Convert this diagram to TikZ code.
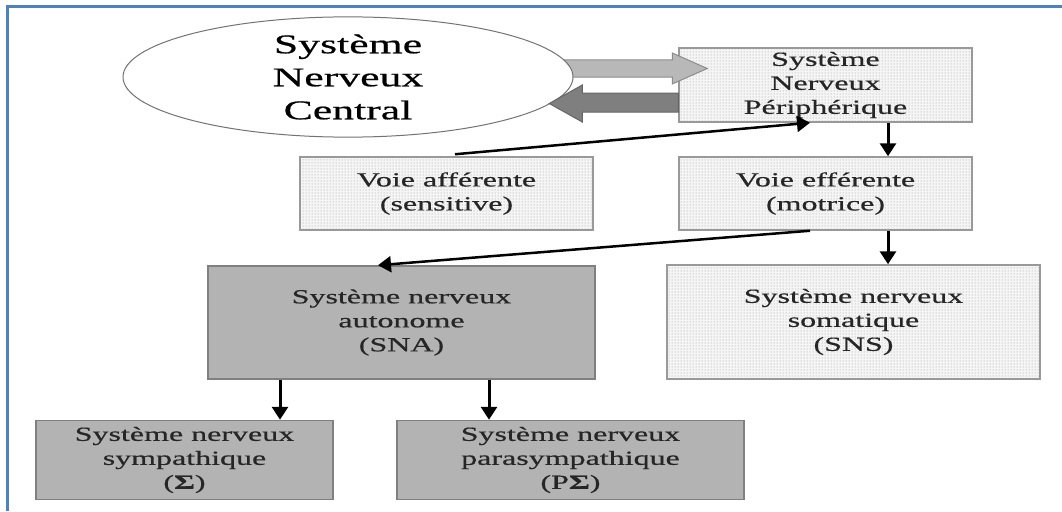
\documentclass[tikz,border=0pt]{standalone}
\usepackage{fontspec}
\setmainfont{Liberation Serif}
\newfontfamily\boxfont[FakeStretch=1.6,FakeBold=0.6]{Liberation Serif}
\newfontfamily\bigfont[FakeStretch=1.62,FakeBold=0.6]{Liberation Serif}
\usetikzlibrary{calc,shapes.geometric,arrows.meta,patterns}
\definecolor{frameblue}{RGB}{79,129,189}
\definecolor{boxgray}{RGB}{179,179,179}
\definecolor{lightarrow}{RGB}{184,184,184}
\definecolor{darkarrow}{RGB}{127,127,127}
\tikzset{
  txt/.style={font=\boxfont\fontsize{20}{24}\selectfont, text=black!85, align=center, inner sep=0pt},
  dotbox/.style={txt, draw=black!40, line width=1.5pt, preaction={fill=black!4}, pattern=dots, pattern color=black!40},
  graybox/.style={txt, draw=black!50, line width=1.5pt, fill=boxgray},
  conn/.style={draw=black, line width=3pt, -{Triangle[length=13pt,width=16pt]}},
  fatarrow/.style={line width=1pt}
}
\begin{document}
\begin{tikzpicture}[x=1pt,y=-1pt]
\useasboundingbox (0,0) rectangle (1062,511);
% frame
\draw[frameblue, line width=3pt] (7,511) -- (7,7) -- (1062,7);

% boxes
\node[dotbox, minimum width=293pt, minimum height=74pt] (snp) at (825.5,85) {Système\\Nerveux\\Périphérique};
\node[dotbox, minimum width=293pt, minimum height=73pt] (aff) at (446.5,193.5) {Voie afférente\\(sensitive)};
\node[dotbox, minimum width=293pt, minimum height=73pt] (eff) at (825.5,193.5) {Voie efférente\\(motrice)};
\node[graybox, minimum width=387pt, minimum height=113pt] (sna) at (401.5,322.5) {Système nerveux\\autonome\\(SNA)};
\node[dotbox, minimum width=373pt, minimum height=114pt] (sns) at (853.5,322) {Système nerveux\\somatique\\(SNS)};
\node[graybox, minimum width=297pt, minimum height=79pt] (symp) at (184.5,460) {Système nerveux\\sympathique\\(\textbf{Σ})};
\node[graybox, minimum width=347pt, minimum height=79pt] (para) at (570.5,460) {Système nerveux\\parasympathique\\(P\textbf{Σ})};

% light fat arrow (central -> peripheral)
\filldraw[fatarrow, fill=lightarrow, draw=black!45]
  ($(snp.west)+(-124,-25)$) -- ($(snp.west)+(-6,-25)$) -- ($(snp.west)+(-6,-32)$)
  -- ($(snp.west)+(29,-16.5)$) -- ($(snp.west)+(-6,-1)$) -- ($(snp.west)+(-6,-8)$)
  -- ($(snp.west)+(-124,-8)$) -- cycle;

% central ellipse
\node[ellipse, draw=black!55, line width=1pt, fill=white, minimum width=450pt, minimum height=112pt, inner sep=0pt,
      font=\bigfont\fontsize{27}{33}\selectfont, align=center] (snc) at (348,77) {Système\\Nerveux\\Central};

% dark fat arrow (peripheral -> central)
\filldraw[fatarrow, fill=darkarrow, draw=black!60]
  ($(snp.west)+(0,8)$) -- ($(snp.west)+(-96,8)$) -- ($(snp.west)+(-96,0)$)
  -- ($(snp.west)+(-129,18.5)$) -- ($(snp.west)+(-96,37)$) -- ($(snp.west)+(-96,27)$)
  -- ($(snp.west)+(0,27)$) -- cycle;

% connectors
\draw[conn, line width=2.5pt] ($(aff.north)+(8.5,-2)$) -- ($(snp.south)+(-15.5,0)$);
\draw[conn] ($(snp.south)+(62.5,0)$) coordinate (p1) -- (p1 |- eff.north);
\draw[conn, line width=2.5pt] ($(eff.south)+(-15.5,0)$) -- ($(sna.north)+(-23.5,0)$);
\draw[conn] ($(eff.south)+(62.5,0)$) coordinate (p2) -- (p2 |- sns.north);
\draw[conn] ($(sna.south)+(-121.5,0)$) coordinate (p3) -- (p3 |- symp.north);
\draw[conn] ($(sna.south)+(87.5,0)$) coordinate (p4) -- (p4 |- para.north);
\end{tikzpicture}
\end{document}
